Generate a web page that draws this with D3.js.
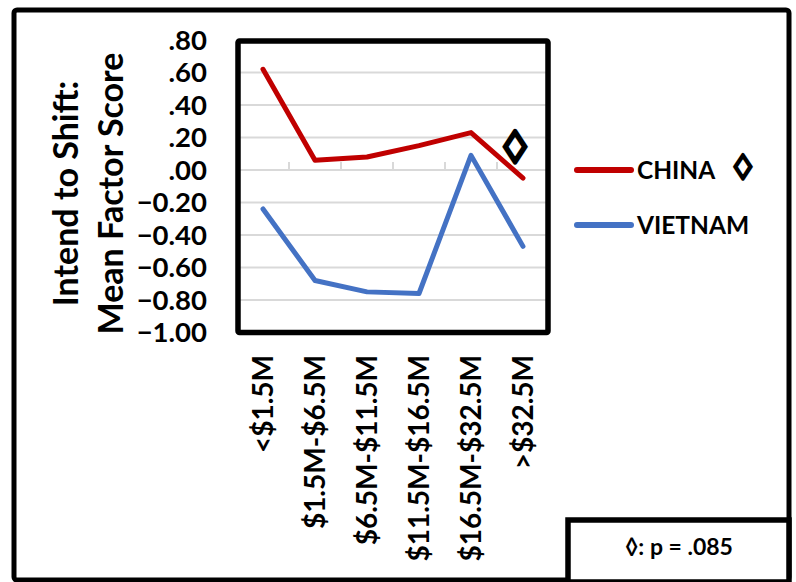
<!DOCTYPE html>
<html>
<head>
<meta charset="utf-8">
<script src="https://cdn.jsdelivr.net/npm/d3@7"></script>
<style>
  html, body { margin: 0; padding: 0; background: #fff; }
  svg { display: block; }
  text { font-family: Lato, "Open Sans", sans-serif; font-weight: bold; fill: #000; }
</style>
</head>
<body>
<svg id="chart" width="796" height="582"></svg>
<script>
// ---- data ----
const categories = ["<$1.5M", "$1.5M-$6.5M", "$6.5M-$11.5M", "$11.5M-$16.5M", "$16.5M-$32.5M", ">$32.5M"];
const chinaValues = [0.62, 0.06, 0.08, 0.15, 0.23, -0.05];
const vietnamValues = [-0.24, -0.68, -0.75, -0.76, 0.09, -0.47];
const seriesNames = ["CHINA", "VIETNAM"];
const yTicks = [0.8, 0.6, 0.4, 0.2, 0, -0.2, -0.4, -0.6, -0.8, -1.0];
const yTitleLines = ["Intend to Shift:", "Mean Factor Score"];
const sigMark = "\u25CA";
const footnote = "\u25CA: p = .085";

// ---- layout ----
const plot = { left: 237, right: 549, top: 40, bottom: 332.5 };
const colors = { CHINA: "#C00000", VIETNAM: "#4472C4" };

const svg = d3.select("#chart");

const x = d3.scaleBand().domain(categories).range([plot.left, plot.right]).padding(0);
const y = d3.scaleLinear().domain([-1, 0.8]).range([plot.bottom, plot.top]);
const cx = c => x(c) + x.bandwidth() / 2;

// outer frame
svg.append("rect")
  .attr("x", 14).attr("y", 10).attr("width", 775).attr("height", 570)
  .attr("rx", 3).attr("fill", "none").attr("stroke", "#000").attr("stroke-width", 5);

// gridlines
svg.append("g").selectAll("line").data(yTicks.filter(t => t > -1 && t < 0.8)).join("line")
  .attr("x1", plot.left).attr("x2", plot.right)
  .attr("y1", d => y(d)).attr("y2", d => y(d))
  .attr("stroke", "#d9d9d9").attr("stroke-width", 2);

// category boundary ticks on the zero line
const bounds = categories.map(c => x(c)).concat([plot.right]);
svg.append("g").selectAll("line").data(bounds).join("line")
  .attr("x1", d => d).attr("x2", d => d)
  .attr("y1", y(0) - 8).attr("y2", y(0))
  .attr("stroke", "#d9d9d9").attr("stroke-width", 2);

// y tick labels
const fmt = v => d3.format(".2f")(v).replace(/^(-?)0\./, "$1.");
svg.append("g").selectAll("text").data(yTicks).join("text")
  .attr("x", 207).attr("y", d => y(d)).attr("dy", "0.36em")
  .attr("text-anchor", "end").style("font-size", "27.5px")
  .text(fmt);

// y title
const titleG = svg.append("g").attr("transform", "translate(0,193.5)");
[78, 123].forEach((bx, i) => {
  titleG.append("text")
    .attr("transform", `translate(${bx},0) rotate(-90)`)
    .attr("text-anchor", "middle").style("font-size", "34px")
    .text(yTitleLines[i]);
});

// x labels
svg.append("g").selectAll("text").data(categories).join("text")
  .attr("transform", d => `translate(${cx(d)},355) rotate(-90)`)
  .attr("dy", "0.36em").attr("text-anchor", "end").style("font-size", "28px")
  .text(d => d);

// series lines
const line = d3.line().x((d, i) => cx(categories[i])).y(d => y(d));
[["CHINA", chinaValues], ["VIETNAM", vietnamValues]].forEach(([name, vals]) => {
  svg.append("path").datum(vals)
    .attr("d", line).attr("fill", "none")
    .attr("stroke", colors[name]).attr("stroke-width", 5)
    .attr("stroke-linecap", "round").attr("stroke-linejoin", "round");
});

// plot box
svg.append("rect")
  .attr("x", plot.left + 1).attr("y", plot.top + 1)
  .attr("width", plot.right - plot.left - 2).attr("height", plot.bottom - plot.top - 1)
  .attr("rx", 1.5).attr("fill", "none").attr("stroke", "#000").attr("stroke-width", 5.5);

// significance marker in plot
svg.append("text")
  .attr("transform", "translate(515,144) scale(1.4,1)")
  .attr("dy", "0.36em").attr("text-anchor", "middle")
  .style("font-family", "'DejaVu Sans'").style("font-size", "32px")
  .attr("stroke", "#000").attr("stroke-width", 2.6).attr("stroke-linejoin", "round")
  .text(sigMark);

// legend
seriesNames.forEach((name, i) => {
  const ly = 170 + i * 55;
  svg.append("line").attr("x1", 577).attr("x2", 631).attr("y1", ly).attr("y2", ly)
    .attr("stroke", colors[name]).attr("stroke-width", 6).attr("stroke-linecap", "round");
  svg.append("text").attr("x", 637).attr("y", ly).attr("dy", "0.36em")
    .style("font-size", "24.5px").text(name);
});
svg.append("text")
  .attr("transform", "translate(743,165) scale(1.4,1)")
  .attr("dy", "0.36em").attr("text-anchor", "middle")
  .style("font-family", "'DejaVu Sans'").style("font-size", "25px")
  .attr("stroke", "#000").attr("stroke-width", 2).attr("stroke-linejoin", "round")
  .text(sigMark);

// footnote box
svg.append("rect")
  .attr("x", 568).attr("y", 520).attr("width", 221).attr("height", 62)
  .attr("fill", "#fff").attr("stroke", "#000").attr("stroke-width", 5.5);
svg.append("text")
  .attr("x", 679).attr("y", 555).attr("text-anchor", "middle")
  .style("font-size", "23px").text(footnote);
</script>
</body>
</html>
